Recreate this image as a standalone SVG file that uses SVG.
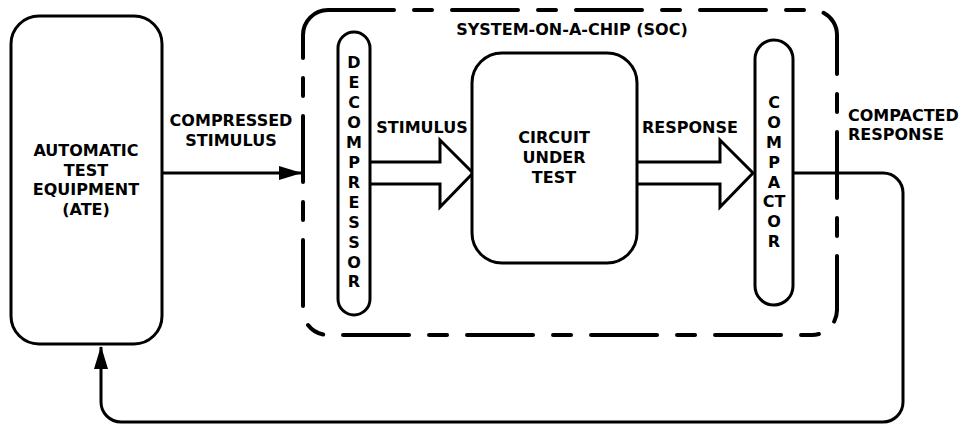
<svg xmlns="http://www.w3.org/2000/svg" width="959" height="425" viewBox="0 0 959 425">
<defs>
<style>
text{font-family:"DejaVu Sans",Verdana,sans-serif;font-weight:bold;font-size:16px;fill:#000;text-anchor:middle}
.box{fill:#fff;stroke:#000;stroke-width:3}
.line{fill:none;stroke:#000;stroke-width:3}
.big{fill:#fff;stroke:#000;stroke-width:3;stroke-linejoin:miter}
</style>
<marker id="ah" markerWidth="24" markerHeight="14" refX="22" refY="7" orient="auto" markerUnits="userSpaceOnUse">
<path d="M0,0 L23,7 L0,14 Z" fill="#000"/>
</marker>
</defs>
<rect width="959" height="425" fill="#fff"/>
<g id="soc">
<rect x="303" y="10" width="534" height="325" rx="25" ry="25" fill="none" stroke="#000" stroke-width="4" stroke-linecap="round" stroke-dasharray="66 20 18 20"/>
<text x="572" y="35">SYSTEM-ON-A-CHIP (SOC)</text>
</g>
<g id="connectors">
<line class="line" x1="162" y1="173" x2="301" y2="173" marker-end="url(#ah)"/>
<path class="line" d="M793,173 H883 A20,20 0 0 1 903,193 V402 A20,20 0 0 1 883,422 H121 A20,20 0 0 1 101,402 V347" marker-end="url(#ah)"/>
<path class="big" d="M370,162 H440 V140 L473,173 L440,207 V184 H370"/>
<path class="big" d="M637,162 H720 V140 L753,173 L720,207 V184 H637"/>
<text x="231" y="126">COMPRESSED</text>
<text x="231" y="146">STIMULUS</text>
<text x="422" y="133">STIMULUS</text>
<text x="690" y="133">RESPONSE</text>
<text x="848" y="121" style="text-anchor:start">COMPACTED</text>
<text x="848" y="140" style="text-anchor:start">RESPONSE</text>
</g>
<g id="ate">
<rect class="box" x="11" y="16" width="151" height="328" rx="28" ry="28"/>
<text x="86" y="156">AUTOMATIC</text>
<text x="86" y="176">TEST</text>
<text x="86" y="195">EQUIPMENT</text>
<text x="86" y="215">(ATE)</text>
</g>
<g id="decompressor">
<rect class="box" x="338" y="32" width="32" height="283" rx="16" ry="16"/>
<text x="354" y="68">D</text>
<text x="354" y="88">E</text>
<text x="354" y="108">C</text>
<text x="354" y="128">O</text>
<text x="354" y="148">M</text>
<text x="354" y="168">P</text>
<text x="354" y="188">R</text>
<text x="354" y="208">E</text>
<text x="354" y="228">S</text>
<text x="354" y="248">S</text>
<text x="354" y="268">O</text>
<text x="354" y="287">R</text>
</g>
<g id="cut">
<rect class="box" x="472" y="53" width="165" height="210" rx="30" ry="30"/>
<text x="554" y="143">CIRCUIT</text>
<text x="554" y="163">UNDER</text>
<text x="554" y="183">TEST</text>
</g>
<g id="compactor">
<rect class="box" x="755" y="40" width="38" height="265" rx="19" ry="19"/>
<text x="774" y="108">C</text>
<text x="774" y="128">O</text>
<text x="774" y="148">M</text>
<text x="774" y="168">P</text>
<text x="774" y="188">A</text>
<text x="774" y="207">CT</text>
<text x="774" y="227">O</text>
<text x="774" y="247">R</text>
</g>
</svg>
